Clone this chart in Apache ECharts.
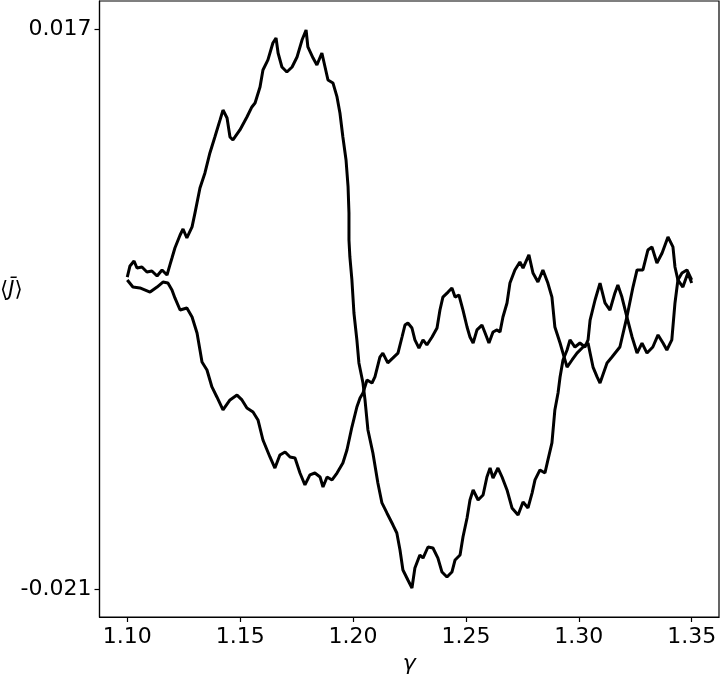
<!DOCTYPE html>
<html>
<head>
<meta charset="utf-8">
<script src="https://cdn.jsdelivr.net/npm/echarts@6/dist/echarts.min.js"></script>
<style>
html,body{margin:0;padding:0;background:#fff;}
#chart{width:721px;height:676px;}
</style>
</head>
<body>
<div id="chart"></div>
<script>
// Branch A: upper branch, sharp drop near 1.20, lower branch, rise near 1.29
const gammaA = [1.1000,1.1012,1.1030,1.1043,1.1065,1.1087,1.1109,1.1132,1.1154,1.1176,1.1189,1.1198,1.1211,1.1234,1.1247,1.1264,1.1287,1.1300,1.1322,1.1344,1.1366,1.1388,1.1411,1.1424,1.1442,1.1455,1.1468,1.1499,1.1530,1.1552,1.1566,1.1588,1.1601,1.1623,1.1645,1.1659,1.1668,1.1685,1.1707,1.1730,1.1752,1.1774,1.1792,1.1800,1.1823,1.1840,1.1862,1.1871,1.1889,1.1911,1.1929,1.1942,1.1955,1.1969,1.1978,1.1982,1.1982,1.1986,1.1995,1.2004,1.2017,1.2026,1.2044,1.2053,1.2066,1.2088,1.2110,1.2128,1.2150,1.2177,1.2194,1.2208,1.2221,1.2243,1.2261,1.2274,1.2296,1.2310,1.2332,1.2354,1.2376,1.2394,1.2416,1.2438,1.2452,1.2474,1.2487,1.2505,1.2518,1.2532,1.2554,1.2576,1.2593,1.2607,1.2620,1.2642,1.2660,1.2682,1.2704,1.2731,1.2753,1.2775,1.2793,1.2806,1.2828,1.2850,1.2863,1.2881,1.2894,1.2908,1.2917,1.2930,1.2948,1.2961,1.2983,1.3005,1.3027,1.3041,1.3050,1.3072,1.3094,1.3116,1.3138,1.3160,1.3173,1.3191,1.3213,1.3236,1.3258,1.3280,1.3302,1.3328,1.3351,1.3373,1.3390,1.3412,1.3426,1.3439,1.3457,1.3479,1.3500];
const currentA = [0.00019,0.00094,0.00128,0.00080,0.00087,0.00053,0.00060,0.00026,0.00067,0.00033,0.00101,0.00148,0.00216,0.00304,0.00345,0.00284,0.00359,0.00454,0.00623,0.00725,0.00861,0.00969,0.01085,0.01152,0.01098,0.00969,0.00949,0.01017,0.01105,0.01173,0.01200,0.01308,0.01424,0.01492,0.01607,0.01641,0.01539,0.01444,0.01410,0.01444,0.01512,0.01627,0.01695,0.01580,0.01505,0.01458,0.01539,0.01478,0.01356,0.01336,0.01241,0.01132,0.00969,0.00813,0.00630,0.00454,0.00270,0.00155,-0.00001,-0.00225,-0.00408,-0.00564,-0.00700,-0.00815,-0.01019,-0.01175,-0.01379,-0.01514,-0.01582,-0.01664,-0.01718,-0.01833,-0.01969,-0.02037,-0.02091,-0.01955,-0.01867,-0.01888,-0.01813,-0.01820,-0.01888,-0.01983,-0.02017,-0.01983,-0.01901,-0.01867,-0.01745,-0.01616,-0.01494,-0.01426,-0.01494,-0.01460,-0.01338,-0.01277,-0.01345,-0.01277,-0.01338,-0.01426,-0.01548,-0.01596,-0.01508,-0.01548,-0.01447,-0.01358,-0.01290,-0.01311,-0.01223,-0.01107,-0.00883,-0.00768,-0.00659,-0.00544,-0.00476,-0.00408,-0.00456,-0.00429,-0.00456,-0.00408,-0.00273,-0.00137,-0.00022,-0.00157,-0.00205,-0.00089,-0.00035,-0.00117,-0.00252,-0.00388,-0.00497,-0.00429,-0.00497,-0.00456,-0.00374,-0.00429,-0.00476,-0.00408,-0.00157,-0.00001,0.00046,0.00067,-0.00001];
// Branch B: lower branch, rise near 1.20, middle plateau, drop near 1.29
const gammaB = [1.1000,1.1025,1.1056,1.1101,1.1132,1.1158,1.1180,1.1198,1.1211,1.1234,1.1264,1.1287,1.1309,1.1322,1.1331,1.1353,1.1375,1.1397,1.1424,1.1455,1.1486,1.1508,1.1530,1.1557,1.1579,1.1601,1.1632,1.1654,1.1676,1.1699,1.1721,1.1743,1.1765,1.1787,1.1809,1.1831,1.1854,1.1867,1.1885,1.1907,1.1929,1.1955,1.1973,1.1995,1.2017,1.2031,1.2044,1.2062,1.2084,1.2097,1.2119,1.2132,1.2154,1.2177,1.2199,1.2217,1.2230,1.2243,1.2261,1.2274,1.2292,1.2310,1.2327,1.2350,1.2372,1.2385,1.2398,1.2421,1.2438,1.2452,1.2469,1.2487,1.2505,1.2518,1.2532,1.2549,1.2571,1.2585,1.2602,1.2620,1.2638,1.2651,1.2664,1.2682,1.2695,1.2717,1.2739,1.2753,1.2779,1.2797,1.2819,1.2841,1.2863,1.2881,1.2894,1.2917,1.2930,1.2948,1.2970,1.2992,1.3019,1.3041,1.3050,1.3063,1.3081,1.3094,1.3125,1.3147,1.3182,1.3213,1.3240,1.3258,1.3284,1.3306,1.3324,1.3346,1.3369,1.3395,1.3417,1.3426,1.3439,1.3461,1.3483,1.3500];
const currentB = [-0.00001,-0.00049,-0.00055,-0.00083,-0.00049,-0.00015,-0.00022,-0.00069,-0.00123,-0.00205,-0.00191,-0.00252,-0.00361,-0.00476,-0.00558,-0.00612,-0.00727,-0.00795,-0.00883,-0.00815,-0.00782,-0.00815,-0.00870,-0.00897,-0.00951,-0.01087,-0.01202,-0.01277,-0.01189,-0.01168,-0.01202,-0.01209,-0.01311,-0.01392,-0.01324,-0.01311,-0.01338,-0.01406,-0.01338,-0.01358,-0.01311,-0.01243,-0.01155,-0.00999,-0.00863,-0.00802,-0.00768,-0.00680,-0.00700,-0.00659,-0.00524,-0.00497,-0.00564,-0.00530,-0.00497,-0.00388,-0.00307,-0.00293,-0.00327,-0.00408,-0.00463,-0.00408,-0.00442,-0.00388,-0.00327,-0.00205,-0.00117,-0.00083,-0.00055,-0.00117,-0.00103,-0.00205,-0.00320,-0.00388,-0.00429,-0.00340,-0.00307,-0.00361,-0.00429,-0.00354,-0.00340,-0.00354,-0.00252,-0.00157,-0.00022,0.00067,0.00121,0.00080,0.00169,0.00046,-0.00015,0.00067,-0.00022,-0.00117,-0.00320,-0.00429,-0.00497,-0.00592,-0.00544,-0.00497,-0.00456,-0.00429,-0.00497,-0.00592,-0.00659,-0.00700,-0.00564,-0.00524,-0.00456,-0.00252,-0.00049,0.00067,0.00067,0.00202,0.00223,0.00114,0.00182,0.00291,0.00223,0.00087,-0.00001,-0.00049,0.00046,-0.00022];
const xTicks = [1.10,1.15,1.20,1.25,1.30,1.35];
const yTicks = [-0.021,0.017];

const zip = (xs, ys) => xs.map((x, i) => [x, ys[i]]);
const font = 'DejaVu Sans';
const chart = echarts.init(document.getElementById('chart'), null, {renderer: 'canvas'});
const lineStyle = {color: '#000', width: 3};
chart.setOption({
  animation: false,
  backgroundColor: '#fff',
  grid: {left: 99.5, right: 2, top: 1, bottom: 59, outerBoundsMode: 'none', containLabel: false,
         show: true, borderColor: '#000', borderWidth: 1.2, backgroundColor: 'transparent'},
  xAxis: {
    type: 'value', min: 1.0877, max: 1.3621,
    name: 'γ', nameLocation: 'middle', nameGap: 34,
    nameTextStyle: {fontFamily: font, fontSize: 22, fontStyle: 'italic', color: '#000'},
    axisLine: {show: true, onZero: false, lineStyle: {color: '#000', width: 1.2}},
    axisTick: {show: true, length: 5, lineStyle: {color: '#000', width: 1.2}, customValues: xTicks},
    axisLabel: {customValues: xTicks, margin: 9, fontFamily: font, fontSize: 22, color: '#000', formatter: v => v.toFixed(2)},
    splitLine: {show: false}
  },
  yAxis: {
    type: 'value', min: -0.02288, max: 0.01892,
    axisLine: {show: true, onZero: false, lineStyle: {color: '#000', width: 1.2}},
    axisTick: {show: true, length: 5, lineStyle: {color: '#000', width: 1.2}, customValues: yTicks},
    axisLabel: {customValues: yTicks, margin: 8, fontFamily: font, fontSize: 22, color: '#000', formatter: v => v.toFixed(3)},
    splitLine: {show: false}
  },
  graphic: [{
    type: 'text', left: 0, top: 280,
    style: {
      text: '⟨{i|J̄}⟩',
      rich: {i: {fontStyle: 'italic', fontFamily: font, fontSize: 21, fill: '#000'}},
      font: '21px "DejaVu Sans"', fill: '#000'
    }
  }],
  series: [
    {type: 'line', data: zip(gammaA, currentA), showSymbol: false, smooth: false, lineStyle: lineStyle, silent: true},
    {type: 'line', data: zip(gammaB, currentB), showSymbol: false, smooth: false, lineStyle: lineStyle, silent: true}
  ]
});
</script>
</body>
</html>
